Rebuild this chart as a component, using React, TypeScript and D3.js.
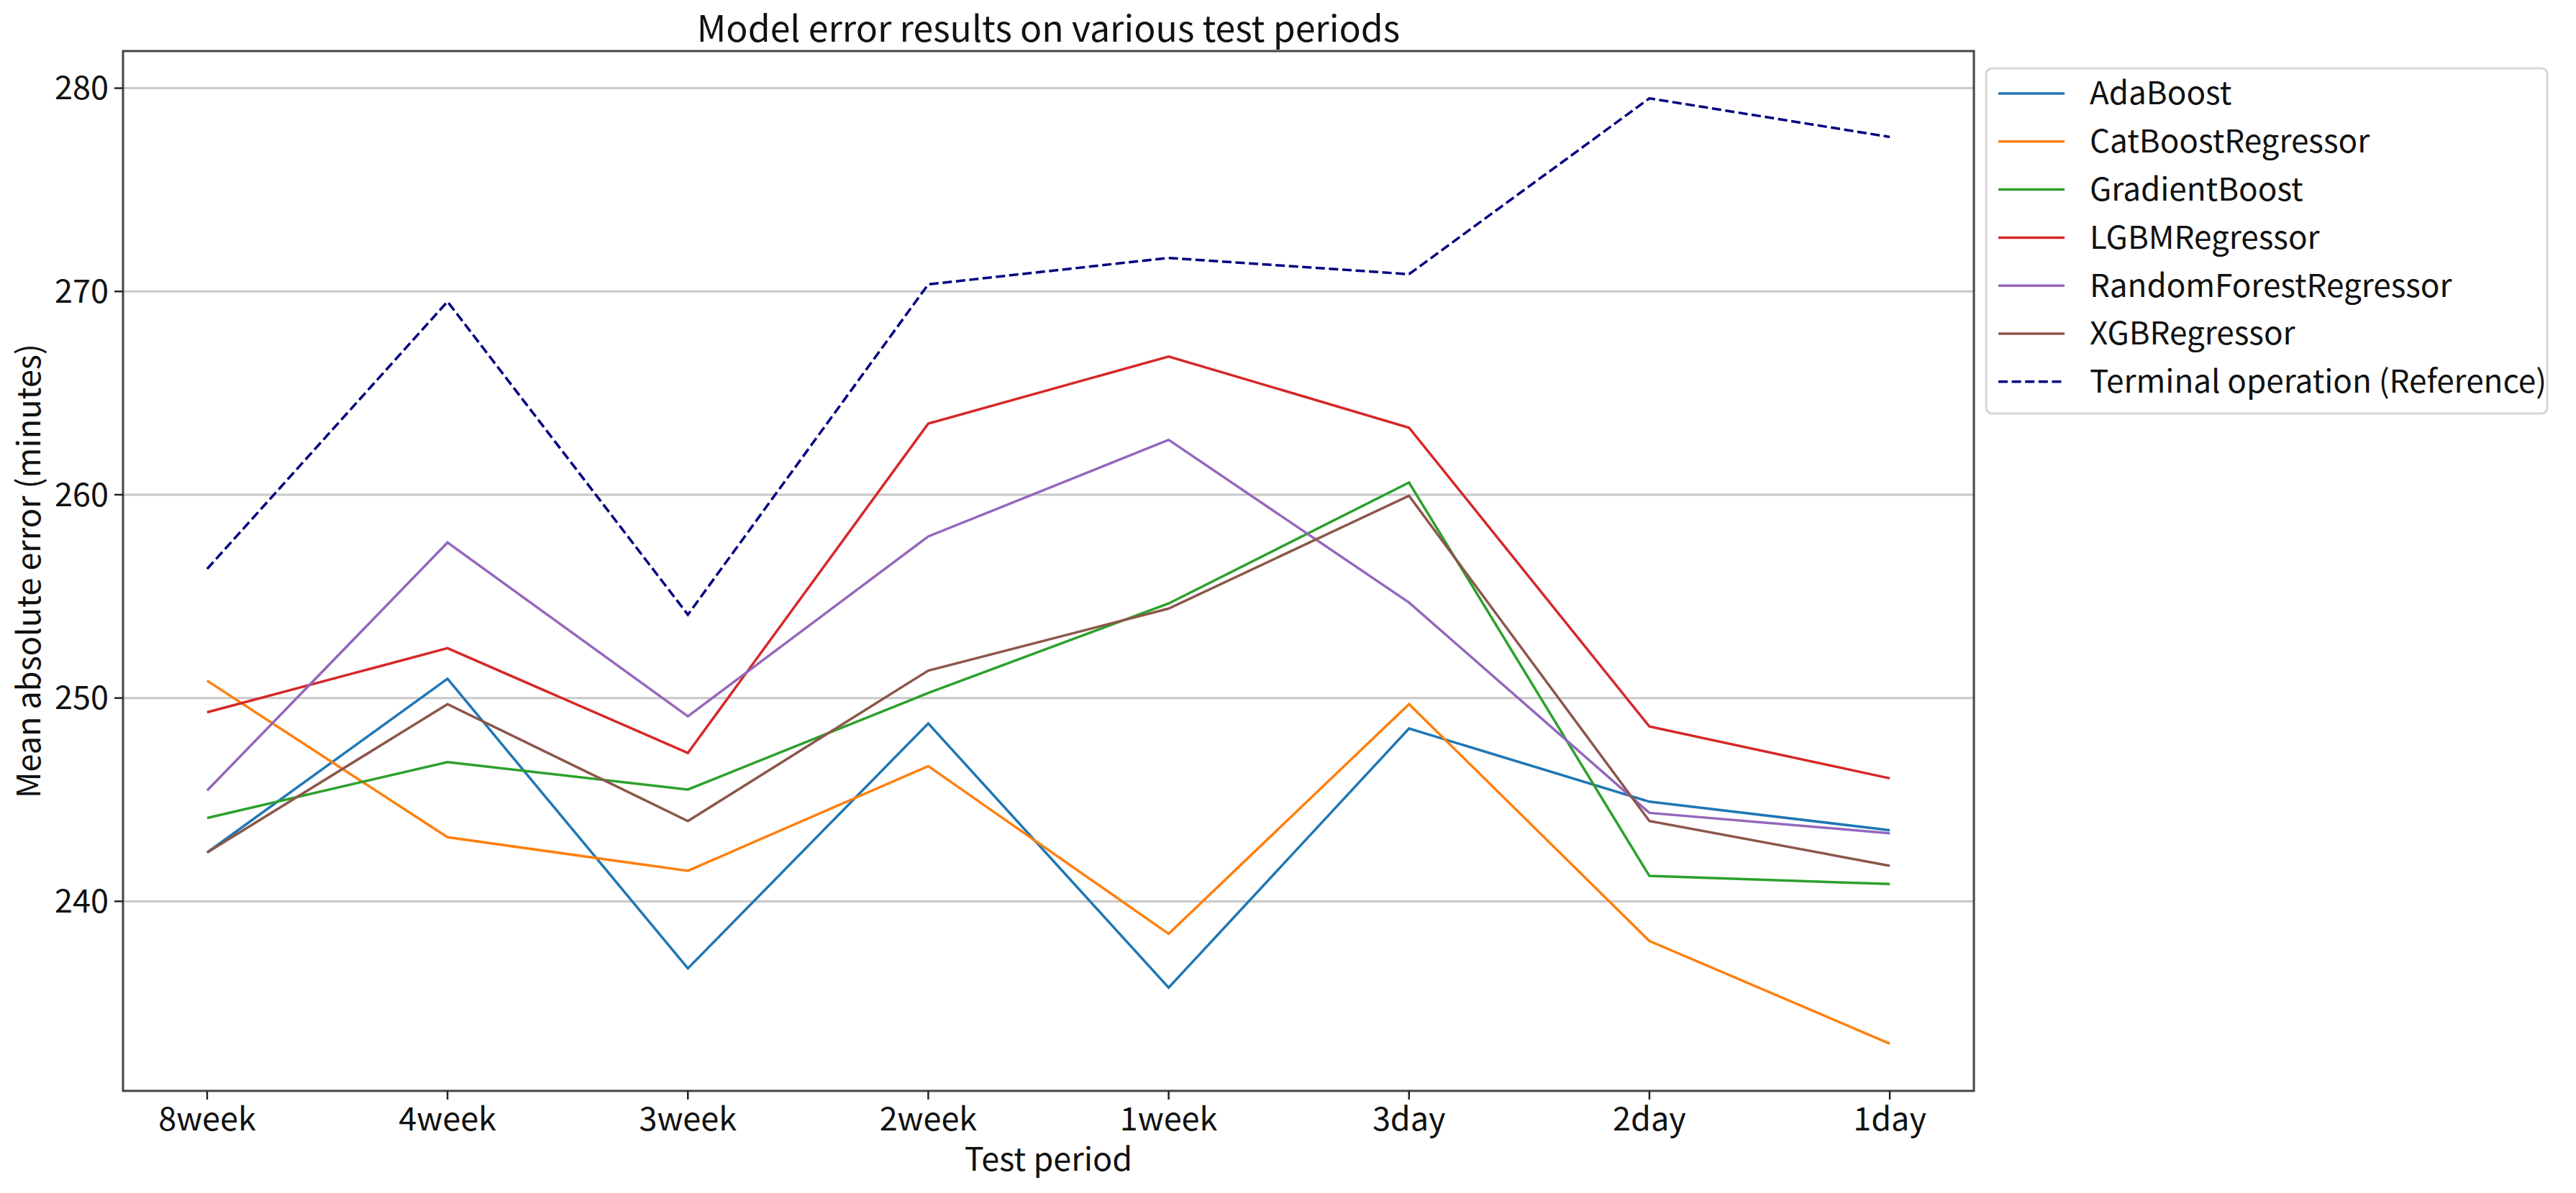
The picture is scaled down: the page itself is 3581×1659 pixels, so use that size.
import { useEffect, useRef } from 'react'
import * as d3 from 'd3'

const periods = ['8week', '4week', '3week', '2week', '1week', '3day', '2day', '1day']

const adaBoost = [242.4, 250.95, 236.7, 248.75, 235.75, 248.5, 244.9, 243.5]
const catBoost = [250.85, 243.15, 241.5, 246.65, 238.4, 249.7, 238.05, 233.0]
const gradientBoost = [244.1, 246.85, 245.5, 250.25, 254.65, 260.6, 241.25, 240.85]
const lgbm = [249.3, 252.45, 247.3, 263.5, 266.8, 263.3, 248.6, 246.05]
const randomForest = [245.45, 257.65, 249.1, 257.95, 262.7, 254.7, 244.35, 243.35]
const xgb = [242.4, 249.7, 243.95, 251.35, 254.4, 259.95, 243.95, 241.75]
const terminal = [256.35, 269.5, 254.1, 270.35, 271.65, 270.85, 279.5, 277.6]

const yTicks = [240, 250, 260, 270, 280]

const series = [
  { name: 'AdaBoost', values: adaBoost, color: '#1f77b4', dashed: false },
  { name: 'CatBoostRegressor', values: catBoost, color: '#ff7f0e', dashed: false },
  { name: 'GradientBoost', values: gradientBoost, color: '#2ca02c', dashed: false },
  { name: 'LGBMRegressor', values: lgbm, color: '#d62728', dashed: false },
  { name: 'RandomForestRegressor', values: randomForest, color: '#9467bd', dashed: false },
  { name: 'XGBRegressor', values: xgb, color: '#8c564b', dashed: false },
  { name: 'Terminal operation (Reference)', values: terminal, color: '#000080', dashed: true }
]

const width = 3581
const height = 1659
const font = '"Noto Sans CJK KR", "Noto Sans", sans-serif'

export default function App() {
  const svgRef = useRef<SVGSVGElement>(null)

  useEffect(() => {
    if (!svgRef.current) return
    const svg = d3.select(svgRef.current)
    svg.selectAll('*').remove()

    const plot = { left: 171, right: 2744, top: 71, bottom: 1517 }

    // matplotlib style 5% margins
    const all = series.flatMap(s => s.values)
    const [lo, hi] = d3.extent(all) as [number, number]
    const pad = (hi - lo) * 0.05

    const x = d3.scalePoint<string>()
      .domain(periods)
      .range([plot.left, plot.right])
      .padding(0.35)

    const y = d3.scaleLinear()
      .domain([lo - pad, hi + pad])
      .range([plot.bottom, plot.top])

    svg.append('rect')
      .attr('width', width)
      .attr('height', height)
      .attr('fill', 'white')

    // grid
    svg.append('g')
      .selectAll('line')
      .data(yTicks)
      .enter()
      .append('line')
      .attr('x1', plot.left)
      .attr('x2', plot.right)
      .attr('y1', d => y(d))
      .attr('y2', d => y(d))
      .attr('stroke', '#c8c8c8')
      .attr('stroke-width', 3)

    // lines
    const line = d3.line<number>()
      .x((_, i) => x(periods[i]) as number)
      .y(d => y(d))

    series.forEach(s => {
      svg.append('path')
        .datum(s.values)
        .attr('fill', 'none')
        .attr('stroke', s.color)
        .attr('stroke-width', 3.5)
        .attr('stroke-dasharray', s.dashed ? '13,5.6' : null)
        .attr('d', line)
    })

    // frame
    svg.append('rect')
      .attr('x', plot.left)
      .attr('y', plot.top)
      .attr('width', plot.right - plot.left)
      .attr('height', plot.bottom - plot.top)
      .attr('fill', 'none')
      .attr('stroke', '#444')
      .attr('stroke-width', 3)

    // x axis
    const xAxis = svg.append('g')
    periods.forEach(p => {
      xAxis.append('line')
        .attr('x1', x(p) as number)
        .attr('x2', x(p) as number)
        .attr('y1', plot.bottom)
        .attr('y2', plot.bottom + 12)
        .attr('stroke', '#222')
        .attr('stroke-width', 2.5)
      xAxis.append('text')
        .attr('x', x(p) as number)
        .attr('y', plot.bottom + 55)
        .attr('text-anchor', 'middle')
        .attr('font-family', font)
        .attr('font-size', 45)
        .attr('fill', '#111')
        .text(p)
    })

    // y axis
    const yAxis = svg.append('g')
    yTicks.forEach(t => {
      yAxis.append('line')
        .attr('x1', plot.left - 12)
        .attr('x2', plot.left)
        .attr('y1', y(t))
        .attr('y2', y(t))
        .attr('stroke', '#222')
        .attr('stroke-width', 2.5)
      yAxis.append('text')
        .attr('x', plot.left - 20)
        .attr('y', y(t))
        .attr('dy', '0.35em')
        .attr('text-anchor', 'end')
        .attr('font-family', font)
        .attr('font-size', 45)
        .attr('fill', '#111')
        .text(t)
    })

    // labels
    svg.append('text')
      .attr('x', (plot.left + plot.right) / 2)
      .attr('y', 1628)
      .attr('text-anchor', 'middle')
      .attr('font-family', font)
      .attr('font-size', 45)
      .attr('fill', '#111')
      .text('Test period')

    svg.append('text')
      .attr('transform', `translate(56,${(plot.top + plot.bottom) / 2}) rotate(-90)`)
      .attr('text-anchor', 'middle')
      .attr('font-family', font)
      .attr('font-size', 45)
      .attr('fill', '#111')
      .text('Mean absolute error (minutes)')

    svg.append('text')
      .attr('x', (plot.left + plot.right) / 2)
      .attr('y', 58)
      .attr('text-anchor', 'middle')
      .attr('font-family', font)
      .attr('font-size', 50)
      .attr('fill', '#111')
      .text('Model error results on various test periods')

    // legend
    const legend = svg.append('g').attr('transform', 'translate(2761,95)')
    legend.append('rect')
      .attr('width', 780)
      .attr('height', 480)
      .attr('rx', 8)
      .attr('fill', 'white')
      .attr('stroke', '#d6d6d6')
      .attr('stroke-width', 3)

    const items = legend.selectAll('.legend-item')
      .data(series)
      .enter()
      .append('g')
      .attr('class', 'legend-item')
      .attr('transform', (_, i) => `translate(0,${35 + i * 66.8})`)

    items.append('line')
      .attr('x1', 17)
      .attr('x2', 109)
      .attr('stroke', d => d.color)
      .attr('stroke-width', 3.5)
      .attr('stroke-dasharray', d => d.dashed ? '13,5.6' : null)

    items.append('text')
      .attr('x', 144)
      .attr('dy', '0.35em')
      .attr('font-family', font)
      .attr('font-size', 44)
      .attr('fill', '#111')
      .text(d => d.name)
  }, [])

  return (
    <svg
      ref={svgRef}
      width={width}
      height={height}
      style={{ position: 'absolute', left: 0, top: 0, display: 'block' }}
    />
  )
}
